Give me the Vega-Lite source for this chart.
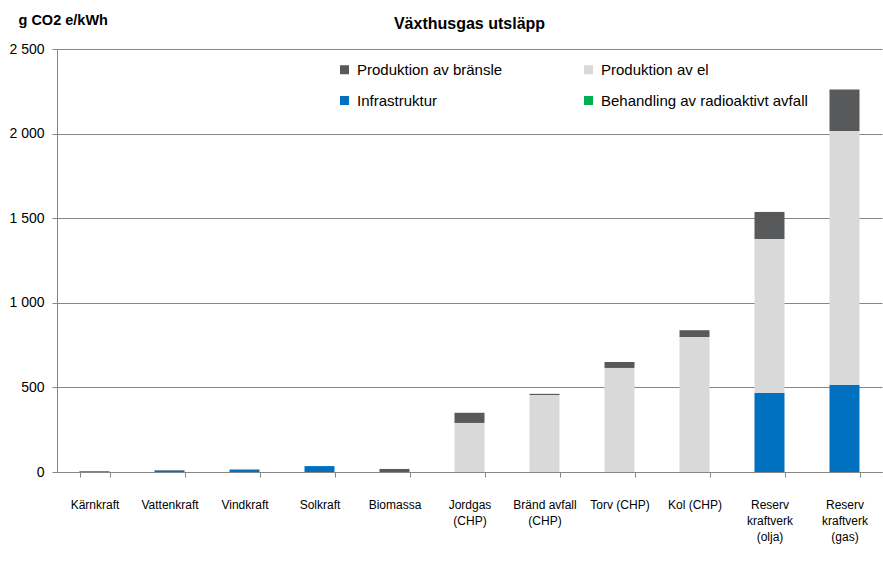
{
  "$schema": "https://vega.github.io/schema/vega-lite/v6.json",
  "autosize": {"type": "none"},
  "width": 825,
  "height": 423,
  "padding": {"left": 57, "top": 49, "right": 1, "bottom": 99},
  "background": "white",
  "title": {
    "text": "Växthusgas utsläpp",
    "font": "Liberation Sans",
    "fontSize": 16,
    "fontWeight": "bold",
    "color": "#000000",
    "anchor": "middle",
    "frame": "group",
    "offset": -20
  },
  "config": {
    "view": {"stroke": null},
    "font": "Liberation Sans"
  },
  "data": {
    "values": [
      {"kraft": "Kärnkraft", "källa": "Produktion av bränsle", "värde": 4},
      {"kraft": "Kärnkraft", "källa": "Infrastruktur", "värde": 1},
      {"kraft": "Kärnkraft", "källa": "Behandling av radioaktivt avfall", "värde": 1},
      {"kraft": "Vattenkraft", "källa": "Infrastruktur", "värde": 9},
      {"kraft": "Vattenkraft", "källa": "Produktion av bränsle", "värde": 2},
      {"kraft": "Vindkraft", "källa": "Infrastruktur", "värde": 12},
      {"kraft": "Vindkraft", "källa": "Produktion av bränsle", "värde": 3},
      {"kraft": "Solkraft", "källa": "Infrastruktur", "värde": 35},
      {"kraft": "Biomassa", "källa": "Produktion av bränsle", "värde": 18},
      {"kraft": "Jordgas (CHP)", "källa": "Produktion av el", "värde": 290},
      {"kraft": "Jordgas (CHP)", "källa": "Produktion av bränsle", "värde": 60},
      {"kraft": "Bränd avfall (CHP)", "källa": "Produktion av el", "värde": 455},
      {"kraft": "Bränd avfall (CHP)", "källa": "Produktion av bränsle", "värde": 7},
      {"kraft": "Torv (CHP)", "källa": "Produktion av el", "värde": 615},
      {"kraft": "Torv (CHP)", "källa": "Produktion av bränsle", "värde": 35},
      {"kraft": "Kol (CHP)", "källa": "Produktion av el", "värde": 798},
      {"kraft": "Kol (CHP)", "källa": "Produktion av bränsle", "värde": 40},
      {"kraft": "Reserv kraftverk (olja)", "källa": "Infrastruktur", "värde": 467},
      {"kraft": "Reserv kraftverk (olja)", "källa": "Produktion av el", "värde": 910},
      {"kraft": "Reserv kraftverk (olja)", "källa": "Produktion av bränsle", "värde": 160},
      {"kraft": "Reserv kraftverk (gas)", "källa": "Infrastruktur", "värde": 515},
      {"kraft": "Reserv kraftverk (gas)", "källa": "Produktion av el", "värde": 1500},
      {"kraft": "Reserv kraftverk (gas)", "källa": "Produktion av bränsle", "värde": 245}
    ]
  },
  "transform": [
    {"calculate": "indexof(['Infrastruktur','Behandling av radioaktivt avfall','Produktion av el','Produktion av bränsle'], datum['källa'])", "as": "stackorder"}
  ],
  "mark": {"type": "bar"},
  "encoding": {
    "x": {
      "field": "kraft",
      "type": "nominal",
      "sort": null,
      "scale": {"paddingInner": 0.6, "paddingOuter": 0.3},
      "axis": {
        "title": null,
        "labelAngle": 0,
        "labelFontSize": 12,
        "labelColor": "#000000",
        "labelPadding": 22,
        "labelBaseline": "top",
        "labelLineHeight": 16,
        "labelExpr": "datum.label == 'Jordgas (CHP)' ? ['Jordgas','(CHP)'] : datum.label == 'Bränd avfall (CHP)' ? ['Bränd avfall','(CHP)'] : datum.label == 'Reserv kraftverk (olja)' ? ['Reserv','kraftverk','(olja)'] : datum.label == 'Reserv kraftverk (gas)' ? ['Reserv','kraftverk','(gas)'] : datum.label",
        "tickBand": "extent",
        "tickSize": 5,
        "tickColor": "#868686",
        "domainColor": "#868686",
        "labelLimit": 200
      }
    },
    "y": {
      "field": "värde",
      "type": "quantitative",
      "stack": "zero",
      "scale": {"domain": [0, 2500], "nice": false},
      "axis": {
        "values": [0, 500, 1000, 1500, 2000, 2500],
        "labelExpr": "replace(format(datum.value, ','), ',', ' ')",
        "labelFontSize": 14,
        "labelColor": "#000000",
        "labelPadding": 8,
        "tickSize": 5,
        "tickColor": "#868686",
        "domainColor": "#868686",
        "gridColor": "#868686",
        "grid": true,
        "title": "g CO2 e/kWh",
        "titleAngle": 0,
        "titleAlign": "left",
        "titleBaseline": "middle",
        "titleX": -39,
        "titleY": -29,
        "titleFontSize": 14.5,
        "titleFontWeight": "bold",
        "titleColor": "#000000"
      }
    },
    "color": {
      "field": "källa",
      "type": "nominal",
      "scale": {
        "domain": ["Produktion av bränsle", "Produktion av el", "Infrastruktur", "Behandling av radioaktivt avfall"],
        "range": ["#58595b", "#d9d9d9", "#0070c0", "#00b050"]
      },
      "legend": {
        "title": null,
        "orient": "none",
        "direction": "horizontal",
        "legendX": 280,
        "legendY": 13,
        "columns": 2,
        "columnPadding": 78,
        "rowPadding": 15,
        "symbolType": "square",
        "symbolSize": 81,
        "symbolStrokeWidth": 0,
        "labelFontSize": 15,
        "labelColor": "#000000",
        "labelOffset": 5,
        "labelLimit": 400
      }
    },
    "order": {"field": "stackorder", "type": "quantitative"}
  }
}
